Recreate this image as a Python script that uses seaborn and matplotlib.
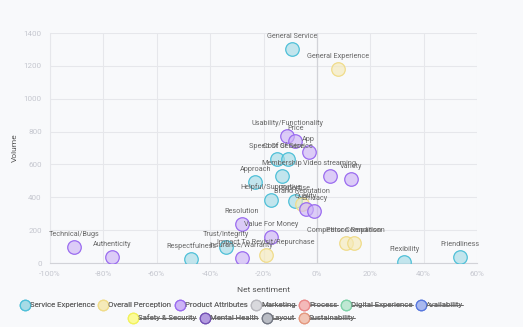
import matplotlib
matplotlib.use("Agg")
import matplotlib.pyplot as plt
import seaborn as sns
import pandas as pd
from matplotlib.lines import Line2D

# ---------------- data ----------------
names = ["General Service", "General Experience", "Usability/Functionality", "Price", "App",
         "Speed Of Service", "Cost Of Service", "Membership", "Approach", "Video streaming",
         "Variety", "Helpful/Supportive", "Expertise", "Brand Reputation", "Quality", "Efficacy",
         "Resolution", "Value For Money", "Competitor Comparison", "Person Rendition",
         "Impact To Revisit/Repurchase", "Insurance/Warranty", "Flexibility", "Friendliness",
         "Technical/Bugs", "Authenticity", "Respectfulness", "Trust/Integrity"]
groups = ["Service Experience", "Overall Perception", "Product Attributes", "Product Attributes",
          "Product Attributes", "Service Experience", "Service Experience", "Service Experience",
          "Service Experience", "Product Attributes", "Product Attributes", "Service Experience",
          "Service Experience", "Overall Perception", "Product Attributes", "Product Attributes",
          "Product Attributes", "Product Attributes", "Overall Perception", "Overall Perception",
          "Overall Perception", "Product Attributes", "Service Experience", "Service Experience",
          "Product Attributes", "Product Attributes", "Service Experience", "Service Experience"]
sentiment = [-9.2, 7.8, -11.1, -8.1, -3.1, -15.1, -11.0, -13.2, -23.1, 4.9,
             12.8, -17.2, -8.2, -5.7, -4.1, -1.0, -28.2, -17.2, 10.8, 13.8,
             -19.2, -28.2, 32.7, 53.6, -90.9, -76.8, -47.1, -34.1]
volume = [1305, 1180, 773, 740, 678, 633, 633, 531, 493, 531,
          509, 383, 375, 359, 329, 314, 237, 156, 119, 124,
          49, 28, 4, 34, 95, 34, 22, 97]

legend_names = ["Service Experience", "Overall Perception", "Product Attributes", "Marketing",
                "Process", "Digital Experience", "Availability", "Safety & Security",
                "Mental Health", "Layout", "Sustainability"]
legend_hidden = [False, False, False, True, True, True, True, True, True, True, True]
fill_colors = ["#a6dbe6", "#f5eab9", "#cdb4f6", "#d9d9dd", "#f4b9b9", "#bfe8d3", "#a9b9ef",
               "#fbfb98", "#b39be0", "#b9bcc4", "#f1c5b5"]
edge_colors = ["#4fc0d8", "#f0dc8a", "#9b6cf0", "#b8b8be", "#ea8a8a", "#7ed2a8", "#5878de",
               "#f2f25c", "#7452b5", "#737884", "#e4987f"]

x_ticks = [-100, -80, -60, -40, -20, 0, 20, 40, 60]
y_ticks = [0, 200, 400, 600, 800, 1000, 1200, 1400]

df = pd.DataFrame({"name": names, "group": groups, "sentiment": sentiment, "volume": volume})

# ---------------- style ----------------
sns.set_style("white")
plt.rcParams["font.family"] = ["Roboto", "DejaVu Sans"]
BG = "#f8f9fb"
GRID = "#e6e7eb"

fig = plt.figure(figsize=(5.23, 3.27), dpi=100, facecolor=BG)
ax = fig.add_axes([50 / 523, 1 - 263 / 327, 427 / 523, 230 / 327])
ax.set_facecolor(BG)

for i, g in enumerate(legend_names[:3]):
    sub = df[df["group"] == g]
    fc = matplotlib.colors.to_rgba(fill_colors[i], 0.65)
    sns.scatterplot(data=sub, x="sentiment", y="volume", ax=ax, s=95, color=fc,
                    edgecolor=edge_colors[i], linewidth=0.9, legend=False, zorder=3)

for _, r in df.iterrows():
    ax.annotate(r["name"], (r["sentiment"], r["volume"]), xytext=(0, 6.5),
                textcoords="offset points", ha="center", va="bottom",
                fontsize=5.2, color="#666666", zorder=4)

ax.set_xlim(-100, 60)
ax.set_ylim(0, 1400)
ax.set_xticks(x_ticks)
ax.set_xticklabels([f"{t}%" for t in x_ticks])
ax.set_yticks(y_ticks)
ax.grid(True, color=GRID, linewidth=0.8)
ax.set_axisbelow(True)
ax.axvline(0, color="#d2d3d8", linewidth=0.9, zorder=1)
for s in ["top", "right"]:
    ax.spines[s].set_visible(False)
ax.spines["left"].set_color(GRID)
ax.spines["bottom"].set_color("#d2d3d8")
ax.spines["left"].set_linewidth(0.8)
ax.tick_params(axis="both", length=4, color=GRID, labelsize=5.8, labelcolor="#c5c7cf", pad=2)

ax.set_xlabel("Net sentiment", fontsize=6, color="#555555", labelpad=7)
ax.set_ylabel("Volume", fontsize=6, color="#555555", labelpad=4)

# ---------------- legend ----------------
def make_handles(idx):
    hs = []
    for i in idx:
        hs.append(Line2D([0], [0], marker="o", linestyle="none", markersize=7.5,
                         markerfacecolor=fill_colors[i], markeredgecolor=edge_colors[i],
                         markeredgewidth=0.9, label=legend_names[i]))
    return hs

legs = []
rows = [list(range(0, 7)), list(range(7, 11))]
ys = [1 - 305 / 327, 1 - 318 / 327]
for row, yy in zip(rows, ys):
    leg = fig.legend(handles=make_handles(row), loc="center", bbox_to_anchor=(242 / 523, yy),
                     ncol=len(row), frameon=False, fontsize=5.6, handletextpad=0.15,
                     columnspacing=0.6, handlelength=1.0, borderpad=0, labelcolor="#6b6b6b")
    fig.add_artist(leg)
    legs.append((leg, row))

fig.canvas.draw()
renderer = fig.canvas.get_renderer()
inv = fig.transFigure.inverted()
for leg, row in legs:
    for t, i in zip(leg.get_texts(), row):
        if legend_hidden[i]:
            bb = t.get_window_extent(renderer)
            (x0, y0), (x1, y1) = inv.transform([(bb.x0, bb.y0), (bb.x1, bb.y1)])
            ym = (y0 + y1) / 2
            fig.add_artist(Line2D([x0, x1], [ym, ym], transform=fig.transFigure,
                                  color="#6b6b6b", linewidth=0.7))

fig.savefig("out.png", dpi=100, facecolor=BG)
